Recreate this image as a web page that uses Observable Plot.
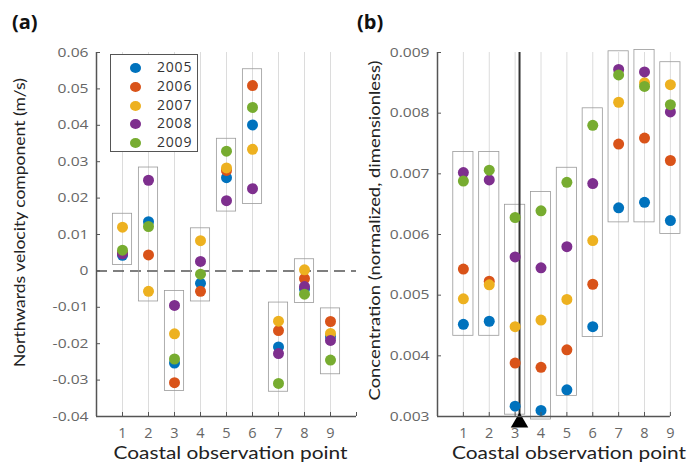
<!DOCTYPE html>
<html><head><meta charset="utf-8">
<script src="https://cdn.jsdelivr.net/npm/d3@7"></script>
<script src="https://cdn.jsdelivr.net/npm/@observablehq/plot@0.6"></script>
<style>
body{margin:0;background:#fff;font-family:"Open Sans",sans-serif;}
#wrap{position:relative;width:691px;height:467px;overflow:hidden;}
.panel{position:absolute;top:0;}
.tag{position:absolute;font-family:"Open Sans",sans-serif;font-weight:bold;font-size:20px;color:#111;}
#legend{position:absolute;left:110px;top:54px;width:88px;height:98px;border:1.5px solid #555;background:#fff;box-sizing:border-box;}
.lrow{position:absolute;left:0;height:19px;font-size:14px;color:#333;letter-spacing:0.8px;}
.lrow span.d{position:absolute;left:19px;top:5px;width:11px;height:10px;border-radius:50%;}
.lrow span.t{position:absolute;left:46px;top:-1px;}
</style></head>
<body><div id="wrap"></div>
<script>
const points = [1,2,3,4,5,6,7,8,9];
const years = ["2005","2006","2007","2008","2009"];
const colors = ["#0072BD","#D95319","#EDB120","#7E2F8E","#77AC30"];

// (a) northwards velocity (m/s)
const v2005 = [0.0043, 0.0135, -0.0253, -0.0034, 0.0256, 0.0401, -0.0209, -0.0050, -0.0180];
const v2006 = [0.0050, 0.0044, -0.0307, -0.0056, 0.0276, 0.0509, -0.0164, -0.0021, -0.0139];
const v2007 = [0.0120, -0.0056, -0.0173, 0.0083, 0.0283, 0.0334, -0.0138, 0.0003, -0.0172];
const v2008 = [0.0047, 0.0249, -0.0095, 0.0026, 0.0193, 0.0226, -0.0227, -0.0043, -0.0191];
const v2009 = [0.0057, 0.0122, -0.0242, -0.0009, 0.0329, 0.0449, -0.0309, -0.0064, -0.0245];
const aBoxLow  = [0.0016, -0.0084, -0.0330, -0.0084, 0.0163, 0.0184, -0.0332, -0.0088, -0.0284];
const aBoxHigh = [0.0157, 0.0284, -0.0055, 0.0117, 0.0363, 0.0554, -0.0087, 0.0032, -0.0103];
const aTicks = [-0.04,-0.03,-0.02,-0.01,0,0.01,0.02,0.03,0.04,0.05,0.06];
const aXTicks = [1,2,3,4,5,6,7,8,9,10];

// (b) concentration (normalized)
const c2005 = [0.00452, 0.00457, 0.00317, 0.00310, 0.00344, 0.00448, 0.00644, 0.00653, 0.00623];
const c2006 = [0.00543, 0.00523, 0.00388, 0.00381, 0.00410, 0.00518, 0.00749, 0.00759, 0.00722];
const c2007 = [0.00494, 0.00517, 0.00448, 0.00459, 0.00493, 0.00590, 0.00818, 0.00850, 0.00847];
const c2008 = [0.00702, 0.00690, 0.00563, 0.00545, 0.00580, 0.00684, 0.00872, 0.00868, 0.00802];
const c2009 = [0.00688, 0.00706, 0.00628, 0.00639, 0.00686, 0.00780, 0.00863, 0.00844, 0.00814];
const bBoxLow  = [0.00433, 0.00433, 0.00303, 0.00295, 0.00334, 0.00431, 0.00620, 0.00620, 0.00601];
const bBoxHigh = [0.00736, 0.00736, 0.00649, 0.00670, 0.00710, 0.00808, 0.00902, 0.00904, 0.00884];
const bTicks = [0.003,0.004,0.005,0.006,0.007,0.008,0.009];
const bXTicks = [1,2,3,4,5,6,7,8,9];
const markerPoint = [3.17];

const vSeries = [v2005,v2006,v2007,v2008,v2009];
const cSeries = [c2005,c2006,c2007,c2008,c2009];
const toRows = (series) => series.flatMap((arr, i) => arr.map((v, j) => ({pt: points[j], year: years[i], v})));
const boxRows = (lo, hi) => points.map((p, j) => ({pt: p, lo: lo[j], hi: hi[j]}));

const wrap = document.getElementById("wrap");
const H = 467, MT = 52, MB = 51;
const tickFont = "'Open Sans', sans-serif";
const labelFont = "Lato, sans-serif";
const xTitle = "Coastal observation point";

function panel({rows, boxes, yDomain, yTicks, xTicks, fmt, ylabel, width, mLeft, mRight, xMax, halfW, zeroLine, extra, yLabelDx, yLabelDy, xLabelDx}) {
  const pw = width - mLeft - mRight, ph = H - MT - MB;
  return Plot.plot({
    width, height: H,
    marginLeft: mLeft, marginRight: mRight, marginTop: MT, marginBottom: MB,
    style: {fontFamily: tickFont, fontSize: "13px", color: "#666", background: "transparent", overflow: "visible"},
    x: {domain: [0, xMax]},
    y: {domain: yDomain},
    color: {domain: years, range: colors},
    marks: [
      Plot.gridX(points, {stroke: "#dcdcdc", strokeOpacity: 1, strokeWidth: 1}),
      zeroLine ? Plot.ruleY([0], {stroke: "#555", strokeWidth: 1.5, strokeDasharray: "11,6"}) : null,
      Plot.rect(boxes, {x1: d => d.pt - halfW, x2: d => d.pt + halfW, y1: "lo", y2: "hi", fill: "none", stroke: "#9a9a9a", strokeWidth: 0.8}),
      ...(extra || []),
      Plot.dot(rows, {x: "pt", y: "v", fill: "year", r: 5.5, stroke: "none"}),
      // axis lines
      Plot.ruleX([0], {stroke: "#555", strokeWidth: 1.5}),
      Plot.ruleY([yDomain[0]], {x1: () => 0, x2: () => xTicks[xTicks.length - 1], stroke: "#555", strokeWidth: 1.5}),
      // inward tick marks
      Plot.tickY(yTicks, {y: d => d, stroke: "#555", strokeWidth: 1, insetRight: pw - 4}),
      Plot.tickX(xTicks, {x: d => d, stroke: "#555", strokeWidth: 1, insetTop: ph - 4}),
      // tick labels
      Plot.axisY(yTicks, {tickFormat: fmt, tickSize: 0, tickPadding: 8, fontSize: 13, label: null, fill: "#666"}),
      Plot.axisX(points, {tickSize: 0, tickPadding: 11, fontSize: 14.5, label: null, fill: "#666"}),
      // axis titles
      Plot.text([ylabel], {frameAnchor: "left", textAnchor: "middle", lineAnchor: "middle", rotate: -90, dx: yLabelDx, dy: yLabelDy, fontSize: 15.5, fontFamily: labelFont, fill: "#222"}),
      Plot.text([xTitle], {frameAnchor: "bottom", textAnchor: "middle", lineAnchor: "middle", dy: 37, dx: xLabelDx, fontSize: 17.5, fontFamily: labelFont, fill: "#222"})
    ]
  });
}

// stretch texts to the lengths seen in the reference (which is horizontally widened)
function stretch(svg, ylabel, yLen, xLen) {
  svg.querySelectorAll("text").forEach(t => {
    if (t.textContent === ylabel) { t.setAttribute("textLength", yLen); t.setAttribute("lengthAdjust", "spacingAndGlyphs"); }
    if (t.textContent === xTitle) { t.setAttribute("textLength", xLen); t.setAttribute("lengthAdjust", "spacingAndGlyphs"); }
  });
  svg.querySelectorAll('g[aria-label="y-axis tick label"] text').forEach(t => {
    const w = t.getComputedTextLength();
    t.setAttribute("textLength", (w * 1.2).toFixed(1)); t.setAttribute("lengthAdjust", "spacingAndGlyphs");
  });
}

const pa = panel({
  rows: toRows(vSeries), boxes: boxRows(aBoxLow, aBoxHigh),
  yDomain: [-0.04, 0.06], yTicks: aTicks, xTicks: aXTicks, fmt: d => d === 0 ? "0" : d.toFixed(2),
  ylabel: "Northwards velocity component (m/s)", width: 360, mLeft: 96, mRight: 4, xMax: 10, halfW: 0.37, zeroLine: true,
  yLabelDx: -76, yLabelDy: -12, xLabelDx: 4
});
pa.classList.add("panel"); pa.style.left = "0px";
wrap.appendChild(pa);
stretch(pa, "Northwards velocity component (m/s)", 289, 234);

const pb = panel({
  rows: toRows(cSeries), boxes: boxRows(bBoxLow, bBoxHigh),
  yDomain: [0.003, 0.009], yTicks: bTicks, xTicks: bXTicks, fmt: d => d.toFixed(3),
  ylabel: "Concentration (normalized, dimensionless)", width: 331, mLeft: 77, mRight: 3, xMax: 9.7, halfW: 0.39, zeroLine: false,
  yLabelDx: -62, yLabelDy: -4, xLabelDx: 6,
  extra: [
    Plot.ruleX(markerPoint, {stroke: "#333", strokeWidth: 2}),
    Plot.dot(markerPoint, {x: d => d, y: () => 0.003, symbol: "triangle", r: 6.5, fill: "#000", dy: 6})
  ]
});
pb.classList.add("panel"); pb.style.left = "360px";
wrap.appendChild(pb);
stretch(pb, "Concentration (normalized, dimensionless)", 340, 234);

const ta = document.createElement("div"); ta.className = "tag"; ta.textContent = "(a)"; ta.style.left = "12px"; ta.style.top = "8px"; wrap.appendChild(ta);
const tb = document.createElement("div"); tb.className = "tag"; tb.textContent = "(b)"; tb.style.left = "357px"; tb.style.top = "8px"; wrap.appendChild(tb);

const lg = document.createElement("div"); lg.id = "legend";
years.forEach((y, i) => {
  const r = document.createElement("div"); r.className = "lrow"; r.style.top = (3 + i * 18.8) + "px";
  r.innerHTML = `<span class="d" style="background:${colors[i]}"></span><span class="t">${y}</span>`;
  lg.appendChild(r);
});
wrap.appendChild(lg);
</script></body></html>
